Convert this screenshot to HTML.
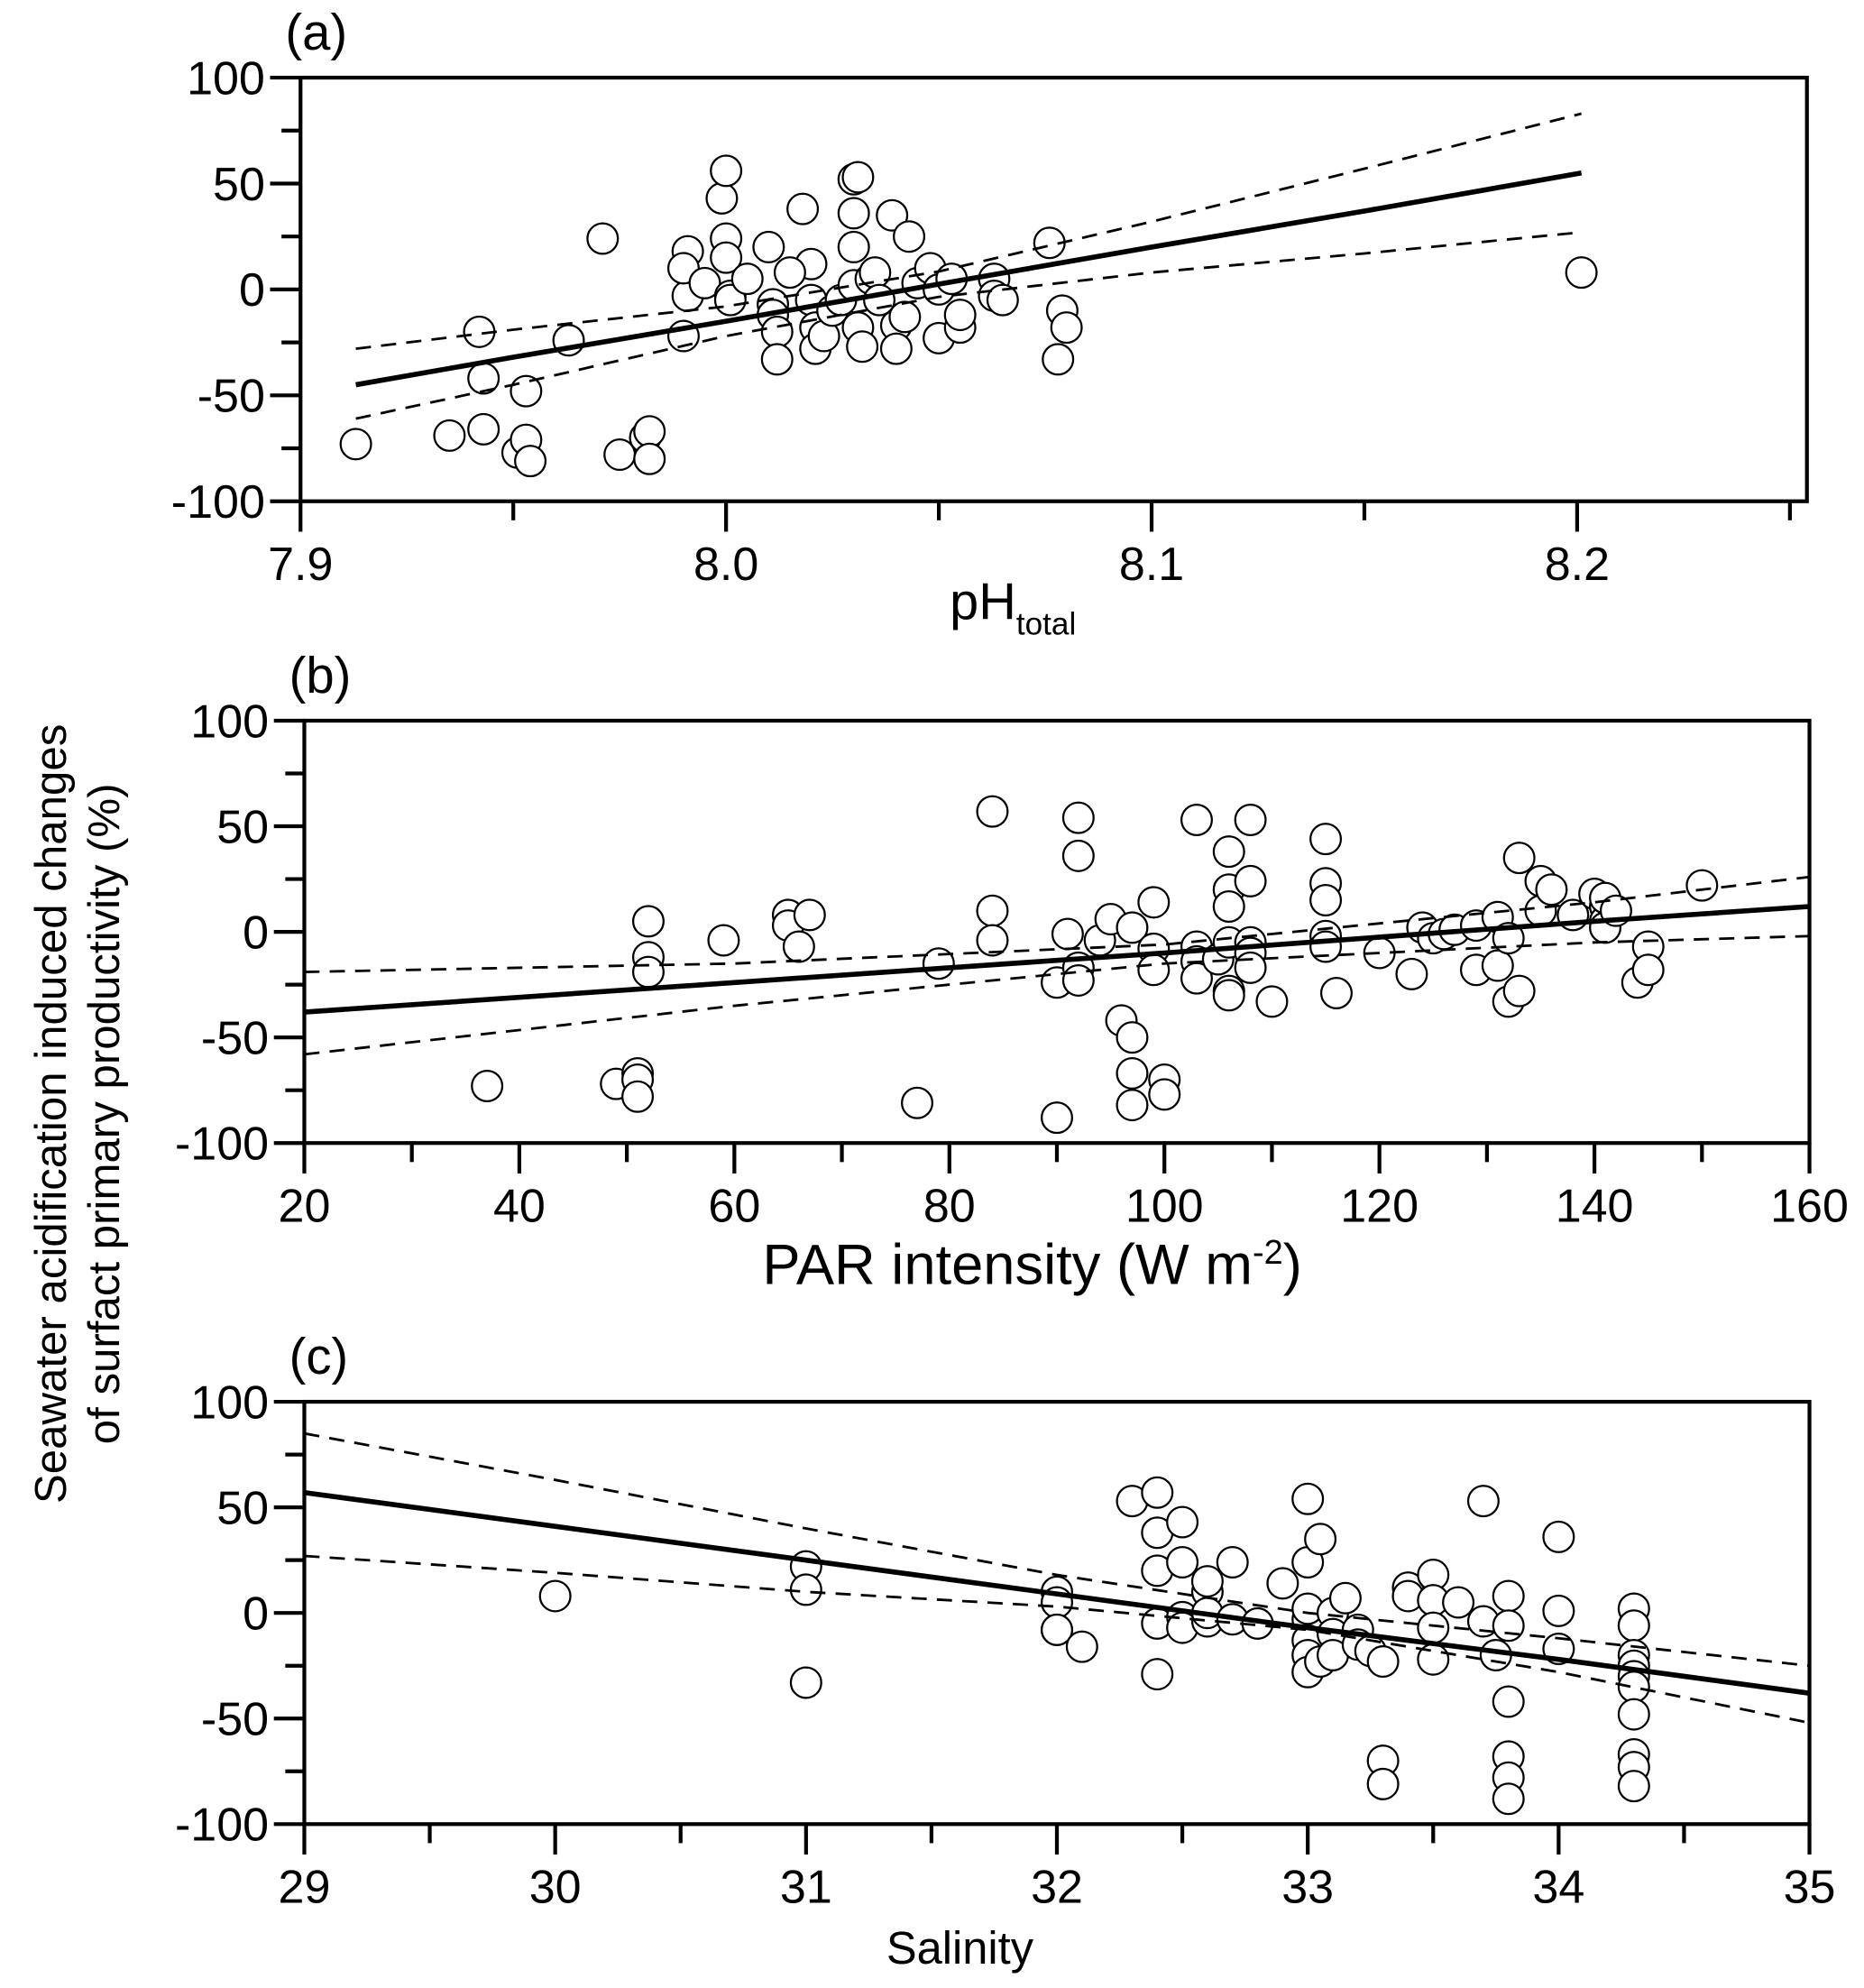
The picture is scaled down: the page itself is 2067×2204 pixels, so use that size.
<!DOCTYPE html>
<html><head><meta charset="utf-8"><style>
html,body{margin:0;padding:0;background:#fff}
svg{display:block}
text{font-family:"Liberation Sans",Arial,sans-serif;fill:#000}
</style></head><body>
<svg id="chart" width="2067" height="2204" viewBox="0 0 1470 1567" xmlns="http://www.w3.org/2000/svg">
<text transform="translate(52,878) rotate(-90)" text-anchor="middle" font-size="35">Seawater acidification induced changes</text>
<text transform="translate(94,878) rotate(-90)" text-anchor="middle" font-size="35">of surfact primary productivity (%)</text>
</svg>
<script>
// ---- Panel (a) data ----
const aX = [7.913,7.935,7.942,7.943,7.943,7.951,7.953,7.953,7.954,7.963,7.971,7.975,7.981,7.982,7.982,7.990,7.991,7.991,7.990,7.995,7.999,8.000,8.000,8.000,8.001,8.001,8.005,8.010,8.011,8.011,8.012,8.012,8.018,8.020,8.020,8.021,8.021,8.023,8.015,8.025,8.027,8.030,8.031,8.030,8.030,8.030,8.031,8.032,8.034,8.035,8.036,8.039,8.040,8.040,8.042,8.043,8.045,8.048,8.050,8.050,8.053,8.055,8.055,8.063,8.063,8.065,8.076,8.078,8.079,8.080,8.201];
const aY = [-73,-69,-20,-42,-66,-77,-48,-71,-81,-24,24,-78,-70,-67,-80,-22,18,-3,10,3,43,56,24,15,-3,-5,5,20,-7,-12,-20,-33,38,12,-5,-18,-28,-22,8,-10,-5,52,53,36,20,2,-18,-27,5,8,-5,35,-17,-28,-13,25,3,10,-23,0,5,-18,-12,5,-3,-5,22,-33,-10,-18,8];
const aFitX = [7.913,7.95,8.0,8.05,8.1,8.15,8.201];
const aFit = [-45,-32,-15,2.5,20,37,55];
const aUp = [-28,-19,-8,8.5,32,57,83];
const aLo = [-61,-45,-22,-3.5,8,17,27];
const aTicks = ["7.9","8.0","8.1","8.2"];
// ---- Panel (b) data ----
const bX = [37,49,51,51,51,52,52,52,59,65,65,66,67,77,79,84,84,84,90,90,91,92,92,92,92,94,95,96,97,97,97,97,99,99,99,100,100,103,103,103,103,105,106,106,106,106,106,106,108,108,108,108,108,110,115,115,115,115,115,116,120,123,124,125,126,127,129,129,131,131,132,132,133,133,135,135,136,138,140,141,141,141,141,142,144,145,145,150];
const bY = [-73,-72,-67,-70,-78,5,-12,-19,-4,8,3,-7,8,-81,-15,57,10,-4,-88,-24,-1,54,36,-17,-23,-4,6,-42,2,-67,-50,-82,14,-8,-18,-70,-77,53,-7,-14,-22,-13,-5,38,20,12,-28,-30,24,53,-5,-10,-17,-33,44,23,15,-2,-7,-29,-10,-20,2,-3,-1,1,3,-18,7,-16,-3,-33,-28,35,24,10,20,8,18,12,5,2,16,10,-24,-7,-18,22];
const bFitX = [20,60,100,140,160];
const bFit = [-38,-24,-10,5,12];
const bUp = [-19,-15,-6,14,26];
const bLo = [-58,-35,-15,-5,-2];
const bTicks = ["20","40","60","80","100","120","140","160"];
// ---- Panel (c) data ----
const cX = [30,31,31,31,32,32,32,32,32.1,32.3,32.4,32.4,32.4,32.4,32.4,32.5,32.5,32.5,32.5,32.6,32.6,32.6,32.6,32.7,32.7,32.8,32.9,33,33,33,33,33,33,33,33.05,33.05,33.1,33.1,33.1,33.15,33.2,33.2,33.25,33.3,33.3,33.3,33.4,33.4,33.5,33.5,33.5,33.5,33.6,33.7,33.7,33.75,33.8,33.8,33.8,33.8,33.8,33.8,34,34,34,34.3,34.3,34.3,34.3,34.3,34.3,34.3,34.3,34.3,34.3];
const cY = [8,22,11,-33,10,5,-8,-8,-16,53,-5,-29,57,38,20,43,-2,-7,24,10,15,-4,0,24,-3,-5,14,54,24,-3,-13,-20,-28,2,35,-23,0,-10,-20,7,-8,-15,-18,-70,-81,-23,12,8,18,6,-22,-7,5,53,-4,-20,8,-6,-42,-68,-78,-88,36,1,-17,2,-6,-20,-25,-30,-35,-48,-67,-73,-82];
const cFitX = [29,30,31,32,33,34,35];
const cFit = [57,41,25,9,-7,-22,-38];
const cUp = [85,63,40,18,0,-12,-25];
const cLo = [27,19,10,3,-8,-28,-52];
const cTicks = ["29","30","31","32","33","34","35"];
const yTicks = ["100","50","0","-50","-100"];

const NS = "http://www.w3.org/2000/svg";
const svg = document.getElementById("chart");
function mk(tag, attrs, parent){
  const e = document.createElementNS(NS, tag);
  for (const k in attrs) e.setAttribute(k, attrs[k]);
  (parent||svg).appendChild(e);
  return e;
}
function panel(cfg){
  const g = mk("g", {});
  
  
  const L=cfg.L, R=cfg.R, T=cfg.T, B=cfg.B;
  const sx = v => L + (v - cfg.x0) / (cfg.x1 - cfg.x0) * (R - L);
  const sy = v => B - (v + 100) / 200 * (B - T);
  for (let v = -100; v <= 100; v += 25) {
    const major = v % 50 === 0;
    const t = mk("line", {x1:L-(major?24:15), x2:L, y1:sy(v), y2:sy(v), stroke:"#000","stroke-width":3}, g);
    
    
  }
  yTicks.forEach(s => {
    const v = parseFloat(s);
    const t = mk("text", {x:L-28, y:sy(v)+13, "text-anchor":"end","font-size":37}, g);
    t.textContent = s;
    
    
  });
  for (let i = 0; i < cfg.minors.length; i++) {
    const v = cfg.minors[i];
    const t = mk("line", {x1:sx(v), x2:sx(v), y1:B, y2:B+15, stroke:"#000","stroke-width":3}, g);
    
    
  }
  cfg.ticks.forEach(s => {
    const v = parseFloat(s);
    const t = mk("line", {x1:sx(v), x2:sx(v), y1:B, y2:B+24, stroke:"#000","stroke-width":3}, g);
    
    
    const lb = mk("text", {x:sx(v), y:B+62, "text-anchor":"middle","font-size":37}, g);
    lb.textContent = s;
    
    
  });
  for (let i = 0; i < cfg.xs.length; i++) {
    const c = mk("circle", {cx:sx(cfg.xs[i]), cy:sy(cfg.ys[i]), r:12, fill:"#fff", stroke:"#000","stroke-width":1.6}, g);
    
    
  }
  const pts = arr => cfg.fx.map((x,i)=>sx(x)+","+sy(arr[i])).join(" ");
  const f = mk("polyline", {points:pts(cfg.fit), fill:"none", stroke:"#000","stroke-width":4}, g);
  
  
  const u = mk("polyline", {points:pts(cfg.up), fill:"none", stroke:"#000","stroke-width":2,"stroke-dasharray":"12,8"}, g);
  
  
  const l = mk("polyline", {points:pts(cfg.lo), fill:"none", stroke:"#000","stroke-width":2,"stroke-dasharray":"12,8"}, g);
  
  
  const box = mk("rect", {x:L, y:T, width:R-L, height:B-T, fill:"none", stroke:"#000","stroke-width":3}, g);
  
  
  const pl = mk("text", {x:L-12, y:T-22, "font-size":40}, g);
  pl.textContent = cfg.label;
  
  
  return {g, sx, sy};
}
const pa = panel({name:"panel-a", L:237, R:1425, T:61, B:395, x0:7.9, x1:8.254, xs:aX, ys:aY, fx:aFitX, fit:aFit, up:aUp, lo:aLo, ticks:aTicks, minors:[7.95,8.05,8.15,8.25], label:"(a)"});
const at = mk("text", {x:749, y:488, "font-size":41}, pa.g);
at.innerHTML = 'pH<tspan font-size="25" dy="12">total</tspan>';


const pb = panel({name:"panel-b", L:240, R:1427, T:568, B:901, x0:20, x1:160, xs:bX, ys:bY, fx:bFitX, fit:bFit, up:bUp, lo:bLo, ticks:bTicks, minors:[30,50,70,90,110,130,150], label:"(b)"});
const bt = mk("text", {x:814, y:1012, "text-anchor":"middle","font-size":45}, pb.g);
bt.innerHTML = 'PAR intensity (W m<tspan font-size="27" dy="-16">-2</tspan><tspan dy="16">)</tspan>';


const pc = panel({name:"panel-c", L:240, R:1427, T:1105, B:1438, x0:29, x1:35, xs:cX, ys:cY, fx:cFitX, fit:cFit, up:cUp, lo:cLo, ticks:cTicks, minors:[29.5,30.5,31.5,32.5,33.5,34.5], label:"(c)"});
const ct = mk("text", {x:699, y:1548, "font-size":36}, pc.g);
ct.textContent = "Salinity";


</script>
</body></html>
